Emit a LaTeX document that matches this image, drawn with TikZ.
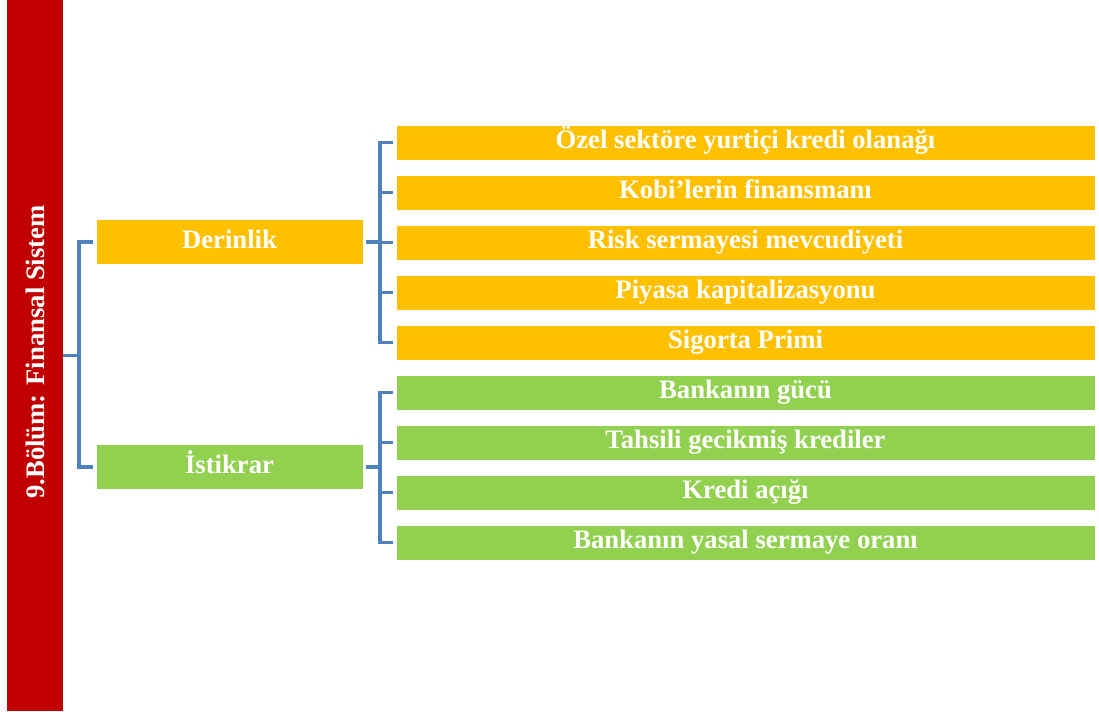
\documentclass[tikz,border=0pt]{standalone}
\usepackage{fontspec}
\setmainfont{Liberation Serif}
\definecolor{barred}{HTML}{C00000}
\definecolor{ygold}{HTML}{FFC000}
\definecolor{lgreen}{HTML}{92D050}
\definecolor{linkblue}{HTML}{4F81BD}
\tikzset{
  boxbase/.style={rectangle, inner sep=0pt, text=white, font=\fontsize{20}{23}\selectfont\bfseries, draw=white, line width=0.4pt, text height=13.5pt, text depth=4pt},
  child/.style={boxbase, minimum width=524.25pt, minimum height=26.25pt},
  parent/.style={boxbase, minimum width=200.25pt, minimum height=33.5pt},
  conn/.style={draw=linkblue, line width=2.6pt},
}
\begin{document}
\begin{tikzpicture}[x=0.75pt,y=-0.75pt]
\useasboundingbox (0,0) rectangle (1099,711);
\node[rectangle, fill=barred, inner sep=0pt, minimum width=42pt, minimum height=533.25pt] (bar) at (35,355.5) {};
\node[text=white, font=\fontsize{20}{23}\selectfont\bfseries, rotate=90] (bartext) at (35,352) {9.Bölüm: Finansal Sistem};
\node[parent, fill=ygold] (derin) at (229.5,242) {Derinlik};
\node[parent, fill=lgreen] (istik) at (229.5,467) {İstikrar};
\node[child, fill=ygold] (c1) at (745.5,142.5) {Özel sektöre yurtiçi kredi olanağı};
\node[child, fill=ygold] (c2) at (745.5,192.5) {Kobi’lerin finansmanı};
\node[child, fill=ygold] (c3) at (745.5,242.5) {Risk sermayesi mevcudiyeti};
\node[child, fill=ygold] (c4) at (745.5,292.5) {Piyasa kapitalizasyonu};
\node[child, fill=ygold] (c5) at (745.5,342.5) {Sigorta Primi};
\node[child, fill=lgreen] (g1) at (745.5,392.5) {Bankanın gücü};
\node[child, fill=lgreen] (g2) at (745.5,442.5) {Tahsili gecikmiş krediler};
\node[child, fill=lgreen] (g3) at (745.5,492.5) {Kredi açığı};
\node[child, fill=lgreen] (g4) at (745.5,542.5) {Bankanın yasal sermaye oranı};
\coordinate (j0) at (79,355.5);
\coordinate (j1) at (380,242);
\coordinate (j2) at (380,467);
\draw[conn] (bar.east) -- (j0);
\draw[conn, shorten <=2.25pt] (derin.west) -| (j0);
\draw[conn, shorten <=2.25pt] (istik.west) -| (j0);
\draw[conn, shorten <=2.25pt] (derin.east) -- (j1);
\draw[conn, shorten <=2.25pt] (istik.east) -- (j2);
\foreach \c in {c1,c2,c3,c4,c5} \draw[conn, shorten <=2.25pt] (\c.west) -| (j1);
\foreach \c in {g1,g2,g3,g4} \draw[conn, shorten <=2.25pt] (\c.west) -| (j2);
\end{tikzpicture}
\end{document}
